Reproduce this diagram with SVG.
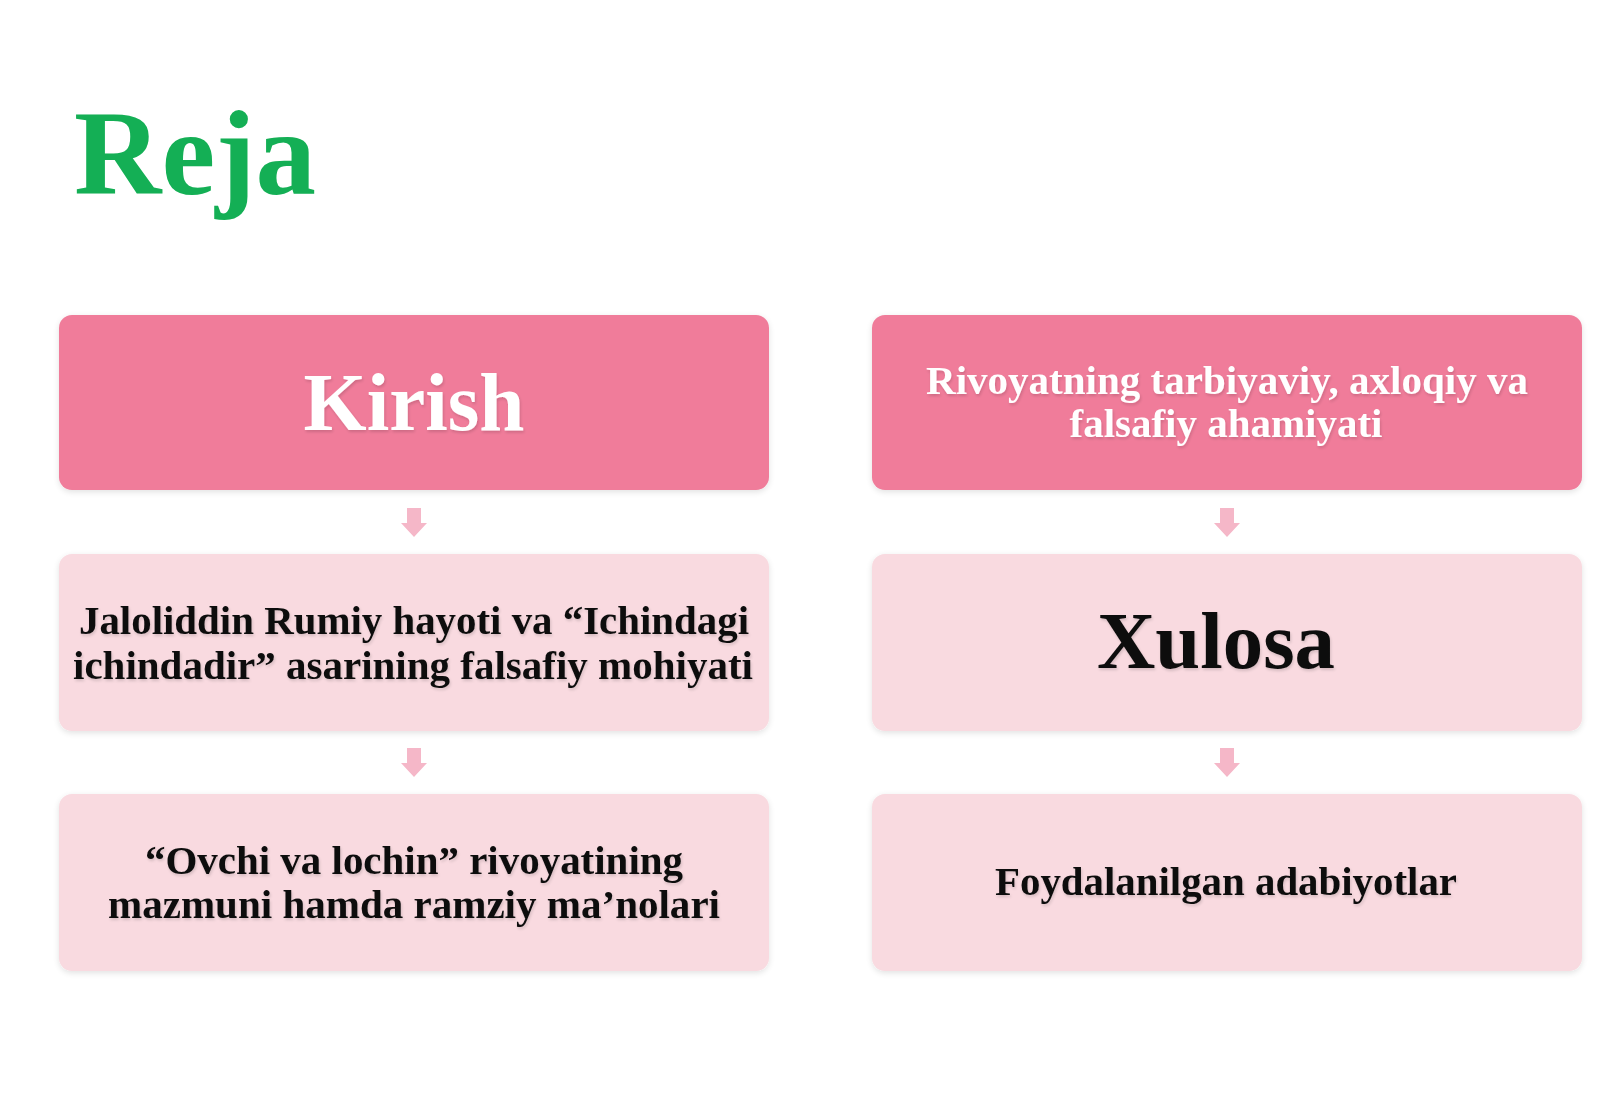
<svg xmlns="http://www.w3.org/2000/svg" width="1600" height="1107" viewBox="0 0 1600 1107">
<defs>
<filter id="sh" x="-5%" y="-10%" width="110%" height="125%">
<feGaussianBlur in="SourceAlpha" stdDeviation="3"/>
<feOffset dy="2"/>
<feComponentTransfer><feFuncA type="linear" slope="0.12"/></feComponentTransfer>
<feMerge><feMergeNode/><feMergeNode in="SourceGraphic"/></feMerge>
</filter>
<filter id="tsh" x="-5%" y="-20%" width="110%" height="150%">
<feGaussianBlur in="SourceAlpha" stdDeviation="1.5"/>
<feOffset dx="1" dy="2"/>
<feComponentTransfer><feFuncA type="linear" slope="0.15"/></feComponentTransfer>
<feMerge><feMergeNode/><feMergeNode in="SourceGraphic"/></feMerge>
</filter>
<path id="arr" d="M-7,0 H7 V15 H13 L0,29 L-13,15 H-7 Z"/>
</defs>
<style>
.dark{fill:#F07C9A}
.light{fill:#F9DAE0}
.t{font-family:"Liberation Serif","Times New Roman",serif;font-weight:bold;text-anchor:middle}
.w{fill:#FFFFFF}
.b{fill:#111111}
.a{fill:#F5B7C8}
</style>
<rect width="1600" height="1107" fill="#FFFFFF"/>
<text x="74" y="194" font-family="Liberation Serif, serif" font-weight="bold" font-size="121" fill="#14AF55" textLength="242" lengthAdjust="spacingAndGlyphs">Reja</text>

<g id="connectors">
<use href="#arr" x="414" y="508" class="a"/>
<use href="#arr" x="414" y="748" class="a"/>
<use href="#arr" x="1227" y="508" class="a"/>
<use href="#arr" x="1227" y="748" class="a"/>
</g>

<g id="n1">
<rect x="59" y="315" width="710" height="175" rx="13" class="dark" filter="url(#sh)"/>
<text x="414" y="430" class="t w" font-size="82" filter="url(#tsh)" textLength="221" lengthAdjust="spacingAndGlyphs">Kirish</text>
</g>
<g id="n2">
<rect x="59" y="554" width="710" height="177" rx="13" class="light" filter="url(#sh)"/>
<text x="414" y="634" class="t b" font-size="39" filter="url(#tsh)" textLength="670" lengthAdjust="spacingAndGlyphs">Jaloliddin Rumiy hayoti va “Ichindagi</text>
<text x="413" y="679" class="t b" font-size="39" filter="url(#tsh)" textLength="680" lengthAdjust="spacingAndGlyphs">ichindadir” asarining falsafiy mohiyati</text>
</g>
<g id="n3">
<rect x="59" y="794" width="710" height="177" rx="13" class="light" filter="url(#sh)"/>
<text x="414" y="874" class="t b" font-size="39" filter="url(#tsh)" textLength="538" lengthAdjust="spacingAndGlyphs">“Ovchi va lochin” rivoyatining</text>
<text x="414" y="918" class="t b" font-size="39" filter="url(#tsh)" textLength="612" lengthAdjust="spacingAndGlyphs">mazmuni hamda ramziy ma’nolari</text>
</g>
<g id="n4">
<rect x="872" y="315" width="710" height="175" rx="13" class="dark" filter="url(#sh)"/>
<text x="1227" y="394" class="t w" font-size="39" filter="url(#tsh)" textLength="602" lengthAdjust="spacingAndGlyphs">Rivoyatning tarbiyaviy, axloqiy va</text>
<text x="1226" y="437" class="t w" font-size="39" filter="url(#tsh)" textLength="313" lengthAdjust="spacingAndGlyphs">falsafiy ahamiyati</text>
</g>
<g id="n5">
<rect x="872" y="554" width="710" height="177" rx="13" class="light" filter="url(#sh)"/>
<text x="1216" y="668" class="t b" font-size="80" filter="url(#tsh)" textLength="238" lengthAdjust="spacingAndGlyphs">Xulosa</text>
</g>
<g id="n6">
<rect x="872" y="794" width="710" height="177" rx="13" class="light" filter="url(#sh)"/>
<text x="1226" y="895" class="t b" font-size="39" filter="url(#tsh)" textLength="462" lengthAdjust="spacingAndGlyphs">Foydalanilgan adabiyotlar</text>
</g>
</svg>
